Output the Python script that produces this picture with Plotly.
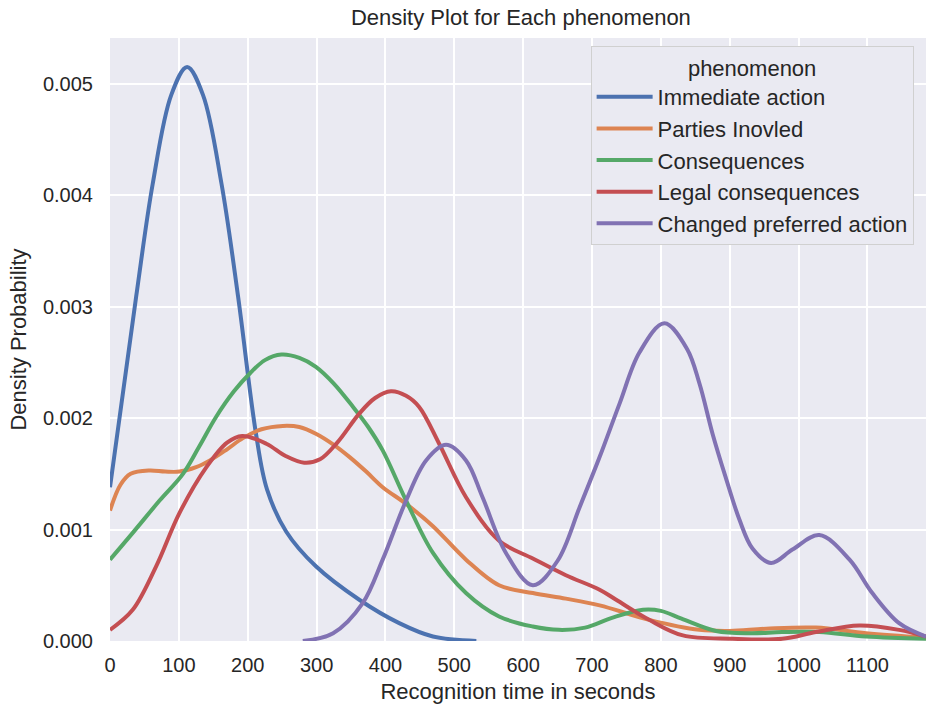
import plotly.graph_objects as go

# ---- data ----
names = ["Immediate action", "Parties Inovled", "Consequences",
         "Legal consequences", "Changed preferred action"]
colors = ["#4C72B0", "#DD8452", "#55A868", "#C44E52", "#8172B3"]

imm_x = [0, 38, 62, 89, 112, 135, 162, 186, 212, 228, 256, 299, 362, 420, 469, 532]
imm_y = [0.00138, 0.00309, 0.0041, 0.0049, 0.00515, 0.0049, 0.0041, 0.00309, 0.00186, 0.00136,
         0.00098, 0.00067, 0.00037, 0.00016, 0.00004, 0.0]

par_x = [0, 15, 30, 57, 80, 101, 125, 145, 170, 193, 220, 251, 275, 299, 325, 348, 372, 396, 430, 469,
         517, 565, 614, 662, 711, 783, 856, 900, 953, 1025, 1098, 1185]
par_y = [0.00117, 0.0014, 0.0015, 0.00153, 0.00152, 0.00152, 0.00156, 0.00162, 0.00172, 0.00182, 0.0019,
         0.00193, 0.00192, 0.00186, 0.00176, 0.00165, 0.00152, 0.00138, 0.00123, 0.00103, 0.00073, 0.0005,
         0.00043, 0.00038, 0.00032, 0.00019, 0.0001, 0.00009, 0.00011, 0.00012, 0.00007, 0.00003]

con_x = [0, 33, 72, 106, 130, 154, 180, 203, 225, 249, 275, 299, 325, 353, 375, 396, 430, 469, 517, 565,
         614, 652, 690, 730, 774, 800, 830, 880, 930, 976, 1030, 1098, 1185]
con_y = [0.00073, 0.00097, 0.00126, 0.0015, 0.00175, 0.00201, 0.00224, 0.0024, 0.00252, 0.00257, 0.00254,
         0.00246, 0.00231, 0.0021, 0.00192, 0.00171, 0.00126, 0.00079, 0.00043, 0.00022, 0.00013, 0.0001,
         0.00012, 0.00021, 0.00028, 0.00027, 0.0002, 0.00009, 0.00007, 0.00008, 0.00008, 0.00004, 0.00002]

leg_x = [0, 33, 67, 101, 140, 170, 192, 227, 255, 282, 305, 330, 362, 385, 408, 430, 449, 478, 517,
         565, 614, 662, 711, 735, 783, 832, 904, 976, 1025, 1088, 1146, 1185]
leg_y = [0.0001, 0.00028, 0.00067, 0.00115, 0.00156, 0.00178, 0.00184, 0.00177, 0.00166, 0.0016,
         0.00163, 0.00178, 0.00204, 0.00218, 0.00224, 0.0022, 0.0021, 0.00177, 0.00129, 0.0009, 0.00074,
         0.00059, 0.00046, 0.00037, 0.00019, 0.00005, 0.00002, 0.00002, 0.00008, 0.00014, 0.0001, 0.00004]

chg_x = [280, 324, 367, 396, 430, 459, 488, 517, 541, 575, 614, 650, 682, 711, 740, 769, 805, 838,
         856, 875, 894, 914, 933, 960, 991, 1030, 1074, 1107, 1146, 1185]
chg_y = [0.0, 0.00007, 0.00034, 0.00073, 0.00126, 0.00162, 0.00176, 0.00162, 0.00129, 0.00079, 0.0005,
         0.00072, 0.0012, 0.00165, 0.00213, 0.00259, 0.00285, 0.00262, 0.00231, 0.00186, 0.00147,
         0.00109, 0.00083, 0.0007, 0.00082, 0.00095, 0.00073, 0.00043, 0.00016, 0.00004]

x_ticks = list(range(0, 1200, 100))
y_ticks = [0.000, 0.001, 0.002, 0.003, 0.004, 0.005]

series = [(imm_x, imm_y), (par_x, par_y), (con_x, con_y), (leg_x, leg_y), (chg_x, chg_y)]

FONT = "Liberation Sans, Arial, sans-serif"
TXT = "#262626"

fig = go.Figure()
for (xs, ys), n, c in zip(series, names, colors):
    fig.add_trace(go.Scatter(x=xs, y=ys, name=n, mode="lines",
                             line=dict(color=c, width=4, shape="spline", smoothing=1.0)))

fig.update_layout(
    width=926, height=706,
    margin=dict(l=110, r=0, t=38, b=65),
    paper_bgcolor="white", plot_bgcolor="#EAEAF2",
    font=dict(family=FONT, color=TXT, size=20),
    title=dict(text="Density Plot for Each phenomenon", x=0.5625, xanchor="center",
               y=0.975, yanchor="middle", font=dict(size=22, color=TXT)),
    legend=dict(x=0.589, y=0.986, xanchor="left", yanchor="top",
                bgcolor="#EAEAF2", bordercolor="#D0D0D0", borderwidth=1,
                font=dict(size=22, color=TXT), itemwidth=56,
                title=dict(text="phenomenon", side="top center", font=dict(size=22, color=TXT))),
    showlegend=True,
)
fig.update_xaxes(range=[0, 1185], tickvals=x_ticks, ticktext=[str(v) for v in x_ticks],
                 showgrid=True, gridcolor="white", gridwidth=2, zeroline=False, showline=False,
                 ticks="", ticklabelstandoff=10, tickfont=dict(size=20),
                 title=dict(text="Recognition time in seconds", font=dict(size=22), standoff=8))
fig.update_yaxes(range=[0, 0.00541], tickvals=y_ticks, ticktext=[f"{v:.3f}" for v in y_ticks],
                 showgrid=True, gridcolor="white", gridwidth=2, zeroline=False, showline=False,
                 ticks="", ticklabelstandoff=16, tickfont=dict(size=20),
                 title=dict(text="Density Probability", font=dict(size=22), standoff=10))

fig.write_html("out.html")
